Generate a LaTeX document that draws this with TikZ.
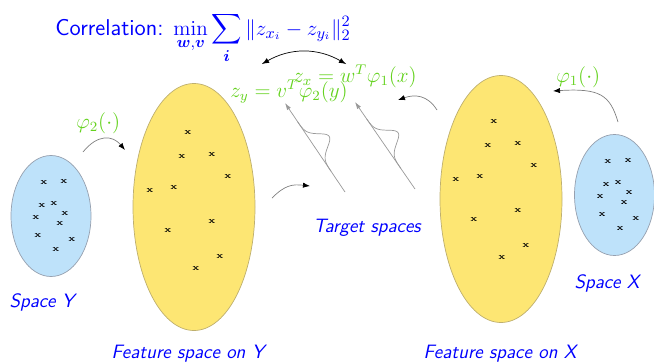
\documentclass[tikz,border=0pt]{standalone}
\usepackage{amsmath,bm}
\usetikzlibrary{shapes.geometric,arrows.meta}

\definecolor{featfill}{RGB}{253,230,115}
\definecolor{featedge}{RGB}{190,175,110}
\definecolor{spacefill}{RGB}{190,226,250}
\definecolor{spaceedge}{RGB}{150,160,175}
\definecolor{mapgreen}{RGB}{100,210,30}

\tikzset{
  featspace/.style={ellipse, draw=featedge, fill=featfill, inner sep=0pt, minimum width=2.44cm, minimum height=4.94cm},
  inspace/.style={ellipse, draw=spaceedge, fill=spacefill, inner sep=0pt, minimum width=1.6cm, minimum height=2.42cm},
  crossmark/.style={inner sep=0pt, font=\tiny\bfseries},
  spacelabel/.style={text=blue, anchor=base, inner sep=0pt, font=\sffamily\itshape\fontsize{11}{13}\selectfont},
  maplabel/.style={text=mapgreen, anchor=base west, inner sep=0pt, font=\fontsize{11.5}{13}\selectfont},
  mapline/.style={draw=gray, -{Latex[black, length=4pt, width=3pt]}},
  axisline/.style={draw=gray!80, -{Latex[length=4pt, width=2.5pt]}},
  density/.style={draw=gray!80}
}

% offsets of the samples inside each space
\def\featpts{(-0.14,1.52),(-0.26,1.04),(0.34,1.08),(0.66,0.64),(-0.9,0.36),(-0.42,0.42),(0.34,-0.26),(-0.54,-0.44),(0.5,-0.96),(0.02,-1.2)}
\def\inpts{(-0.14,0.66),(0.26,0.68),(-0.18,0.2),(0.06,0.24),(-0.3,-0.04),(0.28,0.04),(0.18,-0.16),(-0.26,-0.4),(0.42,-0.48),(0.1,-0.68)}

\begin{document}
\begin{tikzpicture}

 \useasboundingbox (0,0) rectangle (13.08,-7.24);

 % spaces
 \node[inspace] (spy) at (1.02,-4.32) {};
 \node[featspace] (fsy) at (3.88,-4.14) {};
 \node[featspace] (fsx) at (10.02,-3.98) {};
 \node[inspace] (spx) at (12.29,-3.9) {};

 \begin{scope}[shift={(1.02,-4.32)}]
  \foreach \p [count=\i] in \inpts \node[crossmark] (ya\i) at \p {x};
 \end{scope}
 \begin{scope}[shift={(3.9,-4.18)}]
  \foreach \p [count=\i] in \featpts \node[crossmark] (yb\i) at \p {x};
 \end{scope}
 \begin{scope}[shift={(10.02,-3.96)}]
  \foreach \p [count=\i] in \featpts \node[crossmark] (xb\i) at \p {x};
 \end{scope}
 \begin{scope}[shift={(12.3,-3.9)}]
  \foreach \p [count=\i] in \inpts \node[crossmark] (xa\i) at \p {x};
 \end{scope}


 % labels
 \node[anchor=base west, inner sep=0pt, text=blue, font=\fontsize{13}{15}\selectfont] (corr) at (1.1,-0.7)
   {\textsf{Correlation:} $\displaystyle\min_{\bm{w},\bm{v}}\sum_{\bm{i}} \|z_{x_i}-z_{y_i}\|_2^2$};

 \node[spacelabel] (lspy) at (0.84,-6.14) {Space Y};
 \node[spacelabel] (lspx) at (12.14,-5.76) {Space X};
 \node[spacelabel] (lfsy) at (3.76,-7.16) {Feature space on Y};
 \node[spacelabel] (lfsx) at (10.0,-7.16) {Feature space on X};
 \node[spacelabel] (ltgt) at (7.34,-4.64) {Target spaces};

 \node[maplabel] (phi2) at (1.52,-2.56) {$\varphi_2(\cdot)$};
 \node[maplabel] (phi1) at (11.12,-1.64) {$\varphi_1(\cdot)$};
 \node[maplabel] (zy) at (4.6,-1.94) {$z_y = v^T\varphi_2(y)$};
 \node[maplabel] (zx) at (5.86,-1.64) {$z_x = w^T\varphi_1(x)$};


 % connectors
 \coordinate (cy) at (5.24,-1.28);
 \coordinate (cx) at (6.92,-1.28);
 \draw[latex-latex] (cy) to[bend left=30] (cx);

 \coordinate (m2a) at (1.66,-3.04);
 \coordinate (m2b) at (2.5,-3.0);
 \draw[mapline] (m2a) .. controls (1.95,-2.68) and (2.25,-2.7) .. (m2b);

 \coordinate (m1a) at (12.36,-2.44);
 \coordinate (m1b) at (11.06,-1.82);
 \draw[mapline] (m1a) .. controls (12.2,-1.9) and (12.0,-1.76) .. (m1b);

 \coordinate (ty1) at (5.44,-3.96);
 \coordinate (ty2) at (6.2,-3.72);
 \draw[mapline] (ty1) .. controls (5.7,-3.7) and (5.85,-3.68) .. (ty2);

 \coordinate (tx1) at (8.74,-2.2);
 \coordinate (tx2) at (7.96,-2.0);
 \draw[mapline] (tx1) .. controls (8.55,-1.9) and (8.3,-1.88) .. (tx2);


 % target axes with densities
 \coordinate (ay0) at (6.9,-3.84);
 \coordinate (ay1) at (5.7,-2.06);
 \coordinate (ax0) at (8.3,-3.78);
 \coordinate (ax1) at (7.1,-2.04);
 \draw[axisline] (ay0) -- (ay1);
 \draw[axisline] (ax0) -- (ax1);

 \begin{scope}[shift={(ay0)}, rotate=124]
  \draw[density] plot[domain=0.5:1.7, samples=50] (\x, {-0.36*exp(-(\x-1.1)^2/0.05)});
 \end{scope}
 \begin{scope}[shift={(ax0)}, rotate=124.6]
  \draw[density] plot[domain=0.5:1.7, samples=50] (\x, {-0.36*exp(-(\x-1.12)^2/0.05)});
 \end{scope}

\end{tikzpicture}
\end{document}
